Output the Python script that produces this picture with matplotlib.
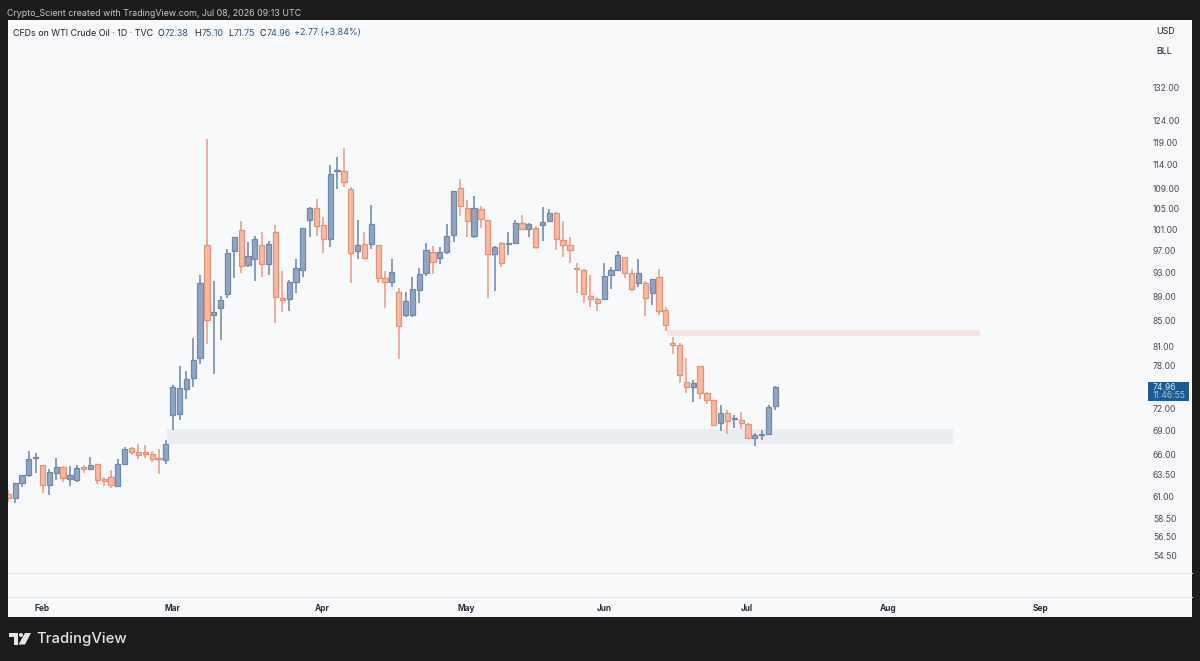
import matplotlib
matplotlib.use("Agg")
import numpy as np
import matplotlib.pyplot as plt
from matplotlib.patches import Polygon, Rectangle, Circle
from matplotlib.transforms import Affine2D

plt.rcParams["font.family"] = ["Inter", "DejaVu Sans"]

# daily candles, WTI crude
OPEN = [61.21, 60.78, 62.59, 63.50, 65.51, 64.68, 62.27, 63.77, 64.45, 63.06,
        62.94, 64.45, 64.17, 64.80, 62.98, 63.30, 62.20, 64.88, 66.78, 66.27,
        66.31, 66.06, 65.60, 65.34, 71.07, 71.25, 74.73, 76.21, 79.16, 98.07,
        85.83, 86.97, 89.33, 96.84, 100.91, 94.40, 95.37, 98.07, 94.51, 100.53,
        88.76, 88.54, 91.46, 93.42, 102.74, 105.10, 101.76, 99.06, 112.76, 112.76,
        108.85, 96.91, 98.26, 98.14, 98.01, 92.04, 91.46, 89.73, 85.89, 85.89,
        90.02, 92.96, 96.66, 95.67, 96.72, 99.80, 109.17, 105.16, 99.67, 104.97,
        102.74, 96.29, 98.32, 98.26, 98.38, 102.15, 101.11, 101.17, 101.83, 102.61,
        104.18, 98.93, 98.07, 93.88, 93.42, 89.10, 88.54, 88.54, 92.56, 93.48,
        95.80, 92.90, 91.29, 91.29, 89.45, 92.27, 86.65, 81.41, 81.11, 75.73,
        74.92, 77.98, 74.06, 73.09, 70.00, 71.38, 70.53, 70.44, 69.95, 68.05,
        68.51, 68.55, 72.38]
HIGH = [61.72, 62.59, 63.54, 66.48, 66.15, 64.68, 64.17, 65.51, 64.56, 64.56,
        64.76, 64.72, 65.72, 64.88, 63.30, 64.09, 65.39, 66.91, 66.99, 67.29,
        67.16, 66.48, 66.65, 67.83, 75.30, 77.98, 77.21, 82.18, 92.61, 119.63,
        91.63, 88.99, 97.21, 99.43, 102.48, 98.50, 99.73, 100.47, 98.81, 101.70,
        93.36, 91.75, 95.49, 101.17, 105.36, 106.86, 103.40, 114.08, 115.63, 117.63,
        109.27, 102.74, 100.47, 105.69, 98.01, 93.31, 95.49, 90.31, 89.62, 92.21,
        93.77, 98.44, 97.83, 97.70, 101.89, 108.57, 111.01, 106.67, 107.46, 105.49,
        102.74, 97.83, 98.63, 100.41, 102.74, 103.66, 102.22, 101.56, 105.23, 104.83,
        104.31, 102.61, 99.43, 94.75, 93.59, 92.56, 88.87, 94.75, 94.05, 96.97,
        95.86, 93.59, 95.49, 91.52, 91.98, 93.71, 87.14, 82.43, 81.52, 79.12,
        75.97, 77.98, 74.25, 73.13, 72.46, 71.79, 71.12, 71.56, 70.09, 68.68,
        69.18, 72.46, 75.10]
LOW = [60.37, 60.19, 62.12, 63.30, 63.69, 61.40, 61.13, 62.90, 62.71, 62.24,
       62.67, 63.69, 64.17, 62.43, 62.20, 61.92, 62.12, 64.80, 65.89, 65.39,
       65.55, 65.09, 63.62, 64.88, 69.18, 70.44, 73.31, 75.01, 78.36, 81.31,
       76.78, 81.92, 88.71, 92.10, 93.02, 93.94, 91.58, 92.21, 92.56, 84.53,
       86.43, 86.54, 89.56, 92.21, 99.49, 99.73, 96.60, 97.58, 108.99, 109.27,
       91.29, 95.37, 95.61, 97.21, 91.17, 87.08, 90.60, 79.02, 85.51, 85.51,
       87.79, 92.44, 92.79, 94.63, 96.35, 98.57, 103.53, 99.43, 99.24, 101.17,
       88.76, 89.91, 93.94, 96.23, 98.14, 100.78, 99.43, 97.34, 98.69, 102.35,
       97.09, 95.86, 94.80, 89.52, 87.79, 87.14, 86.49, 88.54, 90.14, 93.48,
       92.04, 89.79, 90.48, 85.76, 87.46, 85.85, 83.25, 79.73, 75.59, 74.15,
       72.91, 73.27, 72.59, 69.64, 68.93, 68.59, 69.41, 69.28, 67.92, 67.12,
       67.83, 68.55, 71.75]
CLOSE = [60.85, 62.51, 63.46, 65.43, 65.68, 62.35, 63.81, 64.41, 63.10, 63.46,
         64.37, 64.17, 64.76, 62.87, 62.83, 62.27, 64.88, 66.65, 66.27, 65.89,
         66.10, 65.47, 65.47, 67.29, 75.01, 74.78, 76.07, 78.87, 91.29, 85.13,
         86.43, 88.38, 96.47, 99.43, 94.28, 96.04, 99.12, 94.63, 98.14, 88.93,
         88.38, 91.35, 93.82, 101.17, 105.03, 101.63, 99.06, 112.13, 112.97, 110.46,
         96.60, 98.01, 95.61, 102.02, 92.15, 91.46, 93.19, 84.05, 88.11, 90.19,
         92.84, 97.03, 94.94, 96.66, 99.61, 108.57, 105.43, 102.61, 105.16, 102.87,
         96.29, 97.64, 94.69, 98.38, 102.09, 101.04, 101.96, 97.70, 102.42, 104.05,
         99.12, 98.07, 97.09, 93.59, 89.40, 88.54, 87.79, 92.44, 93.42, 96.23,
         93.02, 90.25, 93.02, 88.71, 91.87, 86.49, 84.34, 81.21, 76.64, 75.01,
         75.49, 74.06, 73.09, 69.82, 71.43, 70.26, 70.67, 70.00, 68.05, 68.47,
         68.59, 72.19, 74.96]

PRICE_TICKS = [132, 124, 119, 114, 109, 105, 101, 97, 93, 89, 85, 81, 78, 72, 69,
               66, 63.5, 61, 58.5, 56.5, 54.5]
MONTHS = ["Feb", "Mar", "Apr", "May", "Jun", "Jul", "Aug", "Sep"]
MONTH_POS = [5.0, 23.9, 45.9, 66.8, 87.0, 107.8, 128.5, 150.7]

# supply / demand boxes: first bar, last bar, low, high
SUPPLY = (96.2, 141.8, 82.53, 83.45)
DEMAND = (23.1, 137.9, 67.33, 69.23)

DARK = "#1c1c1c"
PANEL = "#f8f9fb"
GRID = "#e6e8ec"
UP_FILL, UP_EDGE, UP_WICK = "#8fa5c3", "#7089a8", "#6d849d"
DN_FILL, DN_EDGE, DN_WICK = "#f7ba9f", "#e6917a", "#e89c85"
VALUE = "#245a86"
INK = "#1f222b"

W, H = 1200, 661
fig = plt.figure(figsize=(W / 100, H / 100), dpi=100, facecolor=DARK)
PX = Affine2D().scale(1, -1).translate(0, H)   # pixel coords, origin top-left


def box(left, top, right, bottom):
    return [left / W, 1 - bottom / H, (right - left) / W, (bottom - top) / H]


bg = fig.add_axes(box(7.5, 20.3, 1192, 616.5), facecolor=PANEL)
bg.set_xticks([]); bg.set_yticks([])
for s in bg.spines.values(): s.set_visible(False)

ax = fig.add_axes(box(8, 20.3, 1146, 572.7))
ax.patch.set_alpha(0)
ax.set_yscale("log")
ax.set_xlim(-0.04, 166.1)
ax.set_ylim(52.8, 149.8)

for (x0, x1, lo, hi), col in [(SUPPLY, "#f7e3e3"), (DEMAND, "#e9eef3")]:
    ax.add_patch(Rectangle((x0, lo), x1 - x0, hi - lo, fc=col, ec="none", zorder=1))

idx = np.arange(len(OPEN))
o, h, l, c = map(np.array, (OPEN, HIGH, LOW, CLOSE))
up = c >= o
ax.vlines(idx[up], l[up], h[up], color=UP_WICK, lw=1.1, zorder=2)
ax.vlines(idx[~up], l[~up], h[~up], color=DN_WICK, lw=1.1, zorder=2)
ax.bar(idx[up], (c - o)[up], bottom=o[up], width=0.76, fc=UP_FILL, ec=UP_EDGE, lw=0.9, zorder=3)
ax.bar(idx[~up], (o - c)[~up], bottom=c[~up], width=0.76, fc=DN_FILL, ec=DN_EDGE, lw=0.9, zorder=3)

ax.yaxis.tick_right()
ax.set_yticks(PRICE_TICKS)
ax.set_yticklabels([f"{p:.2f}" for p in PRICE_TICKS])
ax.minorticks_off()
ax.tick_params(axis="y", length=0, pad=5, labelsize=6.2, labelcolor="#4a4d55")
ax.set_xticks(MONTH_POS)
ax.set_xticklabels(MONTHS, fontweight="bold")
ax.tick_params(axis="x", length=0, pad=22.5, labelsize=6.0, labelcolor="#2a2e39")
for s in ax.spines.values(): s.set_visible(False)

# separators above the empty pane and the date labels
for y in (572.7, 597.3):
    fig.add_artist(plt.Line2D([7.5, 1192], [y, y], transform=PX, color=GRID, lw=0.8))

# header
FS = 6.4
fig.text(7, 13, "Crypto_Scient created with TradingView.com, Jul 08, 2026 09:13 UTC",
         transform=PX, color="#c9c9c9", fontsize=FS, va="center")
HDR_Y = 33
fig.text(13, HDR_Y, "CFDs on WTI Crude Oil · 1D · TVC", transform=PX, color=INK, fontsize=FS, va="center")
for x, key, val, gap in [(158, "O", OPEN[-1], 7), (194, "H", HIGH[-1], 8),
                         (228, "L", LOW[-1], 5.5), (259, "C", CLOSE[-1], 7.5)]:
    fig.text(x, HDR_Y, key, transform=PX, color=INK, fontsize=FS, va="center")
    fig.text(x + gap, HDR_Y, f"{val:.2f}", transform=PX, color=VALUE, fontsize=FS, va="center")
fig.text(294, HDR_Y, "+2.77 (+3.84%)", transform=PX, color=VALUE, fontsize=FS, va="center")

# currency / unit buttons
fig.text(1156.5, 32, "USD", transform=PX, color=INK, fontsize=FS, va="center")
fig.text(1156.5, 51, "BLL", transform=PX, color=INK, fontsize=FS, va="center")

# last price tag
fig.add_artist(Rectangle((1148, 382), 41, 18.5, transform=PX, fc="#1d5a92", ec="none"))
fig.text(1153, 387.5, f"{CLOSE[-1]:.2f}", transform=PX, color="#dbe6f0", fontsize=6.2, va="center")
fig.text(1153, 395.5, "11:46:55", transform=PX, color="#a9c3da", fontsize=6.2, va="center")

# footer logo
LOGO = "#e6e6e6"
fig.add_artist(Polygon([(9, 633), (17.5, 633), (17.5, 644.5), (13.5, 644.5), (13.5, 637), (9, 637)],
                       transform=PX, fc=LOGO, ec="none"))
fig.add_artist(Circle((21, 635), 2, transform=PX, fc=LOGO, ec="none"))
fig.add_artist(Polygon([(25, 633), (31, 633), (25, 644.5), (18.5, 644.5)],
                       transform=PX, fc=LOGO, ec="none"))
fig.text(36, 639, "TradingView", transform=PX, color=LOGO, fontsize=10.7, fontweight="medium", va="center")

fig.savefig("out.png", dpi=100, facecolor=DARK)
